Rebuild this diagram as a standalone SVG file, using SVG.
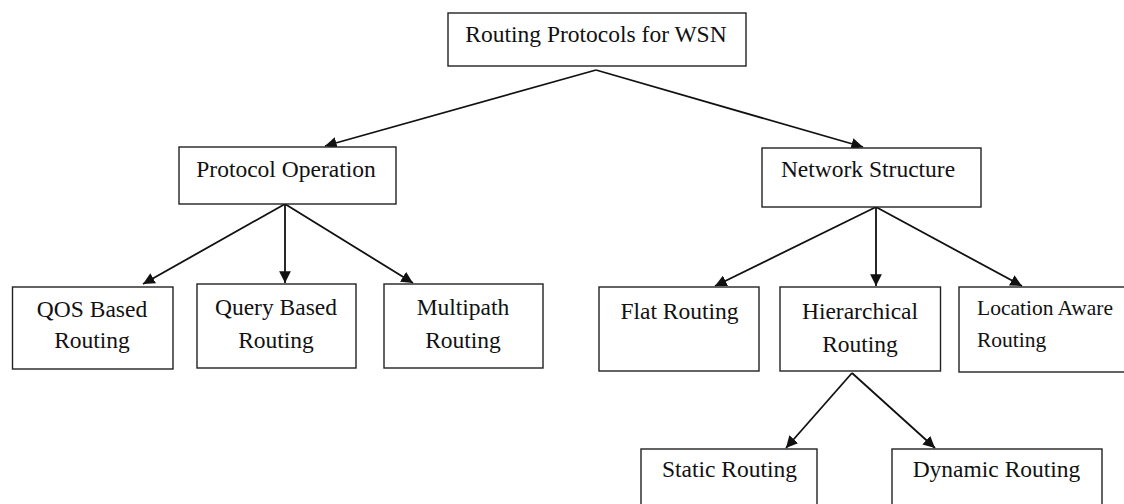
<svg xmlns="http://www.w3.org/2000/svg" width="1124" height="504" viewBox="0 0 1124 504">
<defs>
<style>
.box{fill:#fff;stroke:#222;stroke-width:1.4}
.t{font-family:"Liberation Serif","Times New Roman",serif;font-size:23.5px;fill:#111;text-anchor:middle}
.ts{font-family:"Liberation Serif","Times New Roman",serif;font-size:21.5px;fill:#111}
.c{stroke:#111;stroke-width:1.8;fill:none;marker-end:url(#ah)}
</style>
<marker id="ah" viewBox="0 0 10 10" refX="10" refY="5" markerWidth="6.5" markerHeight="6.5" markerUnits="strokeWidth" orient="auto">
<path d="M0,0 L10,5 L0,10 z" fill="#111"/>
</marker>
</defs>
<rect width="1124" height="504" fill="#fff"/>
<g id="connectors">
<line class="c" x1="596" y1="70" x2="325" y2="146"/>
<line class="c" x1="596" y1="70" x2="863" y2="147"/>
<line class="c" x1="285" y1="204" x2="143" y2="284"/>
<line class="c" x1="285" y1="204" x2="285" y2="283"/>
<line class="c" x1="285" y1="204" x2="413" y2="283"/>
<line class="c" x1="876" y1="207" x2="715" y2="286"/>
<line class="c" x1="876" y1="207" x2="876" y2="286"/>
<line class="c" x1="876" y1="207" x2="1022" y2="286"/>
<line class="c" x1="852" y1="373" x2="786" y2="448"/>
<line class="c" x1="852" y1="373" x2="935" y2="448"/>
</g>
<g id="root">
<rect class="box" x="448" y="13" width="298" height="53"/>
<text class="t" x="596" y="42">Routing Protocols for WSN</text>
</g>
<g id="protocol-operation">
<rect class="box" x="179" y="147" width="217" height="57"/>
<text class="t" x="286" y="177">Protocol Operation</text>
</g>
<g id="network-structure">
<rect class="box" x="762" y="148" width="219" height="59"/>
<text class="t" x="868" y="177">Network Structure</text>
</g>
<g id="qos">
<rect class="box" x="12.5" y="287" width="160.5" height="82"/>
<text class="t" x="92" y="317">QOS Based</text>
<text class="t" x="92" y="348">Routing</text>
</g>
<g id="query">
<rect class="box" x="197" y="284" width="159" height="84"/>
<text class="t" x="276" y="315">Query Based</text>
<text class="t" x="276" y="348">Routing</text>
</g>
<g id="multipath">
<rect class="box" x="384" y="284" width="159" height="84"/>
<text class="t" x="463" y="315">Multipath</text>
<text class="t" x="463" y="348">Routing</text>
</g>
<g id="flat">
<rect class="box" x="599" y="287" width="160" height="84"/>
<text class="t" x="679.5" y="319">Flat Routing</text>
</g>
<g id="hierarchical">
<rect class="box" x="780" y="287" width="160.5" height="84"/>
<text class="t" x="860" y="319">Hierarchical</text>
<text class="t" x="860" y="352">Routing</text>
</g>
<g id="location">
<rect class="box" x="959" y="287" width="175" height="85"/>
<text class="ts" x="977" y="315">Location Aware</text>
<text class="ts" x="977" y="347">Routing</text>
</g>
<g id="static">
<rect class="box" x="641" y="449" width="176" height="70"/>
<text class="t" x="729.5" y="477">Static Routing</text>
</g>
<g id="dynamic">
<rect class="box" x="892" y="449" width="210" height="70"/>
<text class="t" x="996.5" y="477">Dynamic Routing</text>
</g>
</svg>
